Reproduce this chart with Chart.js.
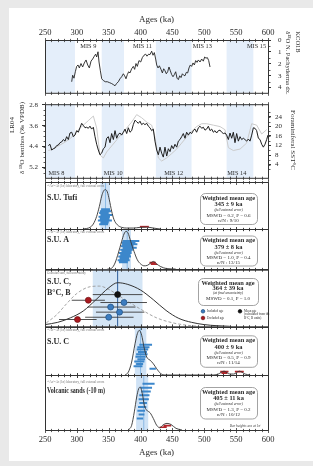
<!DOCTYPE html>
<html>
<head>
<meta charset="utf-8">
<title>Ages (ka)</title>
<script src="https://cdn.jsdelivr.net/npm/chart.js@4.4.1/dist/chart.umd.min.js"></script>
<style>
  html, body { margin: 0; padding: 0; width: 313px; height: 466px; overflow: hidden; background: #e9e9e9; }
  #sheet { position: absolute; left: 9px; top: 8px; width: 304px; height: 453px; background: #fff; }
  canvas { position: absolute; left: 0; }
</style>
</head>
<body>
<div id="sheet"></div>
<canvas id="p1" width="313" height="104" style="top:0px"></canvas>
<canvas id="p2" width="313" height="90" style="top:96px"></canvas>
<canvas id="p3" width="313" height="55" style="top:178px"></canvas>
<canvas id="p4" width="313" height="48" style="top:225px"></canvas>
<canvas id="p5" width="313" height="66" style="top:265px"></canvas>
<canvas id="p6" width="313" height="56" style="top:323px"></canvas>
<canvas id="p7" width="313" height="90" style="top:371px"></canvas>
<script>
// ---- data (ages in ka) ----
const ageTicks = [250, 300, 350, 400, 450, 500, 550, 600];
const kcoTicks = [0, 1, 2, 3, 4];
const lr04Ticks = [2.8, 3.6, 4.4, 5.2];
const sstTicks = [4, 8, 12, 16, 20, 24];

// glacial stages shaded in the two top panels
const misBands = [[250, 297], [339, 374], [424, 480], [535, 577]];
const misOdd = ['MIS 9', 'MIS 11', 'MIS 13', 'MIS 15'];
const misOddAge = [318, 403, 497, 582];
const misEven = ['MIS 8', 'MIS 10', 'MIS 12', 'MIS 14'];
const misEvenAge = [268, 357, 452, 551];

// KCO1B d18O N. pachyderma dx. [age, permil]
const kco = [[291.9,3.51],[293.4,2.96],[295.5,3.21],[297.6,2.67],[299.7,2.22],[301.8,2.10],[303.9,2.35],[306.5,1.98],[309.1,2.27],[311.7,1.93],[314.4,1.68],[317.0,2.10],[319.6,2.35],[322.2,1.78],[324.8,1.60],[327.4,1.36],[329.5,1.19],[331.1,1.43],[333.2,0.99],[334.8,1.85],[336.9,2.59],[339.0,3.26],[341.6,3.41],[344.7,3.51],[347.8,3.51],[351.0,3.58],[354.1,3.65],[357.3,3.75],[359.9,3.85],[362.5,3.65],[365.1,3.51],[367.7,3.26],[370.3,3.09],[373.0,2.84],[375.0,3.01],[377.1,3.26],[379.2,2.91],[381.3,2.67],[383.4,2.77],[386.0,2.42],[388.6,2.22],[390.7,2.47],[392.8,1.98],[394.9,2.22],[397.5,1.73],[400.2,1.85],[402.8,1.48],[405.4,1.28],[408.0,1.19],[410.1,1.36],[412.7,1.19],[414.8,1.23],[417.4,0.94],[419.5,1.28],[421.6,1.06],[423.7,1.60],[425.3,2.10],[427.4,2.35],[429.5,2.17],[432.1,2.47],[434.2,2.77],[436.3,2.42],[438.4,2.59],[440.4,2.84],[442.5,2.67],[444.6,2.27],[446.7,2.59],[448.8,2.91],[450.9,3.09],[453.0,2.91],[455.1,2.67],[457.2,3.21],[459.3,3.33],[461.4,3.01],[463.5,3.16],[465.6,2.84],[467.6,2.96],[469.7,3.01],[471.8,2.72],[473.9,2.77],[476.0,2.35],[478.1,2.10],[480.2,2.22],[482.3,1.93],[484.4,2.10],[486.5,1.73],[488.6,1.88],[490.7,1.68],[493.3,1.85],[495.9,1.60],[498.5,1.78],[500.6,1.43],[502.7,1.53],[504.8,1.48],[506.9,1.73],[509.0,2.27]];

// LR04 benthic stack [age, permil VPDB]
const lr04 = [[255.2,4.36],[257.8,4.31],[260.5,4.53],[263.1,4.48],[265.7,4.45],[268.3,4.36],[270.9,4.34],[273.5,4.25],[276.2,4.22],[278.8,4.13],[281.4,4.19],[284.0,4.02],[286.6,4.13],[289.2,3.88],[291.9,3.85],[294.5,4.02],[297.1,3.96],[299.7,3.79],[302.3,3.85],[304.9,3.68],[307.6,3.51],[310.2,3.59],[312.8,3.68],[315.4,3.66],[318.0,3.70],[320.6,3.62],[323.2,3.73],[325.9,3.66],[328.5,4.02],[331.1,4.31],[333.7,4.53],[336.3,4.71],[338.9,4.65],[341.6,4.48],[344.2,4.42],[346.8,4.08],[349.4,4.02],[352.0,4.25],[354.6,3.90],[357.3,4.13],[359.9,3.79],[362.5,4.08],[365.1,3.93],[367.7,3.88],[370.3,3.96],[373.0,3.85],[375.6,3.73],[378.2,3.90],[380.8,3.68],[383.4,3.85],[386.0,3.79],[388.6,3.56],[391.3,3.39],[393.9,3.45],[396.5,3.51],[399.1,3.43],[401.7,3.56],[404.3,3.51],[406.9,3.56],[409.6,3.51],[412.2,3.62],[414.8,3.68],[417.4,3.79],[420.0,3.73],[422.6,4.19],[425.3,4.53],[427.9,4.71],[430.5,4.42],[433.1,4.65],[435.7,4.80],[438.3,4.42],[441.0,4.76],[443.6,4.48],[446.2,4.59],[448.8,4.36],[451.4,4.48],[454.0,4.31],[456.7,4.42],[459.3,4.19],[461.9,4.13],[464.5,4.02],[467.1,3.90],[469.7,4.08],[472.3,3.85],[475.0,3.96],[477.6,3.85],[480.2,3.90],[482.8,3.79],[485.4,3.73],[488.0,3.85],[490.7,3.68],[493.3,3.62],[495.9,3.70],[498.5,3.66],[501.1,3.77],[503.7,3.73],[506.4,3.62],[509.0,3.79],[511.6,3.73],[514.2,3.85],[516.8,3.79],[519.4,3.88],[522.1,3.79],[524.7,3.77],[527.3,3.85],[529.9,3.90],[532.5,3.88],[535.1,3.96],[537.8,4.13],[540.4,3.88],[543.0,4.08],[545.6,3.85],[548.2,4.25],[550.8,3.90],[553.5,4.19],[556.1,4.02],[558.7,4.13],[561.3,4.08],[563.9,4.13],[566.5,4.19],[569.2,4.11],[571.8,4.19],[574.4,3.96],[577.0,3.68],[579.6,3.70],[582.2,3.79],[584.9,4.08],[587.5,4.13],[590.1,4.31],[592.7,4.42],[595.3,4.31],[597.9,4.13],[600.0,3.96]];

// foraminiferal SST [age, degC]
const sst = [[255.2,9.9],[263.1,10.5],[270.9,11.8],[278.8,13.0],[286.6,14.3],[294.5,16.1],[302.3,18.6],[310.2,20.5],[318.0,22.4],[325.9,24.3],[331.1,19.3],[336.3,8.0],[341.6,6.8],[346.8,9.3],[354.6,11.8],[362.5,14.3],[370.3,16.8],[378.2,19.3],[386.0,21.8],[393.9,24.9],[401.7,23.6],[409.6,21.8],[417.4,20.5],[422.6,15.5],[427.9,6.8],[433.1,5.5],[441.0,6.8],[448.8,8.6],[456.7,10.5],[464.5,13.0],[472.3,15.5],[480.2,18.0],[488.0,19.9],[495.9,21.1],[503.7,21.1],[514.2,20.5],[524.7,19.9],[532.5,18.6],[537.8,11.1],[545.6,9.9],[556.1,10.5],[566.5,13.0],[574.4,21.1],[582.2,20.5],[590.1,16.8],[597.9,18.6]];

// age probability curves [age, relative height] and single-crystal ages [lo, hi, row]
const tufiCurve = [[310,0],[320.6,0.035],[325.8,0.106],[331.1,0.27],[335.3,0.48],[339,0.70],[341.6,0.80],[344.7,0.84],[347.8,0.79],[351,0.62],[354.6,0.38],[358.3,0.20],[363.5,0.09],[370.3,0.035],[378.2,0.02],[388.6,0.02],[399.1,0.035],[409.6,0.04],[420,0.02],[430.5,0]];
const tufiIncl = [[338,352,0.42],[336,354,0.38],[335,350,0.34],[337,356,0.30],[334,352,0.26],[336,351,0.22],[333,355,0.18],[337,350,0.14],[335,349,0.10]];
const tufiExcl = [[399,413,0.05]];
const tufiBand = [337, 352];
const tufiMean = 345;
const tufiBox = ['Weighted mean age', '345 ± 9 ka', '(full external error)', 'MSWD = 0.2, P = 0.6', 'n/N : 9/10'];

const suACurve = [[348,0],[354.6,0.02],[359.9,0.15],[365.1,0.40],[370.3,0.69],[374,0.875],[377.1,0.94],[380.3,0.90],[384.5,0.69],[389.7,0.44],[394.9,0.23],[400.2,0.125],[405.4,0.08],[410.6,0.09],[415.9,0.15],[420,0.19],[425.3,0.125],[431.6,0.06],[441,0.01],[455,0]];
const suAIncl = [[372,398,0.70],[370,392,0.66],[371,395,0.62],[369,389,0.57],[372,394,0.53],[368,388,0.48],[370,386,0.44],[366,386,0.40],[368,384,0.35],[365,385,0.31],[367,382,0.26],[364,383,0.22],[366,380,0.17]];
const suAExcl = [[414,424,0.16],[416,426,0.12]];
const suABand = [371, 385];
const suAMean = 379;
const suABox = ['Weighted mean age', '379 ± 8 ka', '(full external error)', 'MSWD = 1.0, P = 0.4', 'n/N : 13/15'];

// S.U. C, B°C, B : [age, row, lo, hi]
const bcCurve = [[250,0.03],[270,0.07],[290,0.15],[310,0.27],[330,0.47],[350,0.68],[364,0.77],[380,0.74],[400,0.64],[420,0.47],[440,0.28],[460,0.14],[480,0.07],[500,0.03],[520,0.01],[540,0]];
const bcDashed = [[252,0.06],[268,0.2],[284,0.4],[300,0.58],[321,0.70],[336,0.71],[347,0.67],[373,0.49],[399,0.31],[425,0.15],[451,0.06],[472,0.02],[490,0]];
const bcMeanAge = [[364, 0.56, 325, 403]];
const bcIncl = [[374, 0.42, 337, 410], [353, 0.34, 317, 392], [367, 0.25, 330, 406], [350, 0.16, 313, 389]];
const bcExcl = [[318, 0.46, 292, 344], [301, 0.12, 272, 331]];
const bcBand = [325, 403];
const bcMean = 364;
const bcBox = ['Weighted mean age', '364 ± 39 ka', '(at final uncertainty)', 'MSWD = 0.1, P = 1.0'];

const suCCurve = [[375.6,0],[380.8,0.06],[386,0.27],[391.3,0.65],[394.9,0.86],[398,0.93],[401.7,0.83],[405.4,0.58],[409.6,0.375],[414.8,0.31],[420,0.235],[425.3,0.13],[431.6,0.03],[438.3,0],[515,0],[522,0.02],[531,0.08],[540,0.02],[546,0.02],[555,0.08],[564,0.02],[572,0]];
const suCIncl = [[398,418,0.63],[395,414,0.58],[394,412,0.53],[396,410,0.48],[393,411,0.43],[392,408,0.38],[395,407,0.33],[390,406,0.28],[393,404,0.23],[389,403,0.18],[414,424,0.13]];
const suCExcl = [[525,538,0.07],[548,562,0.07],[527,536,0.04]];
const suCBand = [391, 409];
const suCMean = 400;
const suCBox = ['Weighted mean age', '400 ± 9 ka', '(full external error)', 'MSWD = 0.5, P = 0.9', 'n/N : 11/14'];

const volcCurve = [[380.8,0],[386,0.085],[390.2,0.33],[393.9,0.60],[397,0.75],[399.6,0.78],[402.7,0.66],[405.9,0.45],[409.6,0.36],[414.8,0.315],[420,0.21],[425.3,0.085],[430.5,0.04],[435,0.09],[441.5,0.12],[447.8,0.10],[455.6,0.03],[465,0]];
const volcIncl = [[403,422,0.84],[400,418,0.77],[401,416,0.70],[398,414,0.63],[397,413,0.56],[398,410,0.49],[396,409,0.42],[395,407,0.35],[397,406,0.28],[394,404,0.21]];
const volcExcl = [[436,448,0.08],[430,441,0.05]];
const volcBand = [393, 412];
const volcMean = 405;
const volcBox = ['Weighted mean age', '405 ± 11 ka', '(full external error)', 'MSWD = 1.3, P = 0.2', 'n/N : 10/12'];

// ---- styling helpers ----
const SERIF = "'Liberation Serif', 'DejaVu Serif', serif";
const f = (size, style) => (style ? style + ' ' : '') + size + 'px ' + SERIF;
const INK = '#2b2b2b';
const LAB_NOTE = '⁴⁰Ar/³⁹Ar (1σ) laboratory, full external errors';

const pts = arr => arr.map(([x, y]) => ({ x, y }));
const segs = arr => arr.flatMap(([lo, hi, h]) => [{ x: lo, y: h }, { x: hi, y: h }, { x: hi, y: null }]);
const errs = arr => arr.flatMap(([a, h, lo, hi]) => [{ x: lo, y: h }, { x: hi, y: h }, { x: hi, y: null }]);
const dots = arr => arr.map(([a, h]) => ({ x: a, y: h }));

function roundBox(ctx, x, y, w, h, r) {
  ctx.beginPath();
  ctx.moveTo(x + r, y);
  ctx.arcTo(x + w, y, x + w, y + h, r);
  ctx.arcTo(x + w, y + h, x, y + h, r);
  ctx.arcTo(x, y + h, x, y, r);
  ctx.arcTo(x, y, x + w, y, r);
  ctx.closePath();
}

// draws bands, frame, border ticks, labels and boxes for one panel
function deco(cfg) {
  return {
    id: 'deco',
    beforeDatasetsDraw(chart) {
      const { ctx, chartArea: a, scales: { x } } = chart;
      ctx.save();
      ctx.fillStyle = cfg.bandColor || '#e4eefa';
      (cfg.bands || []).forEach(([lo, hi]) => {
        const x0 = x.getPixelForValue(lo), x1 = x.getPixelForValue(hi);
        ctx.fillRect(x0, a.top, x1 - x0, a.bottom - a.top);
      });
      if (cfg.mean) {
        const px = x.getPixelForValue(cfg.mean);
        ctx.strokeStyle = cfg.meanColor || '#79aee0';
        ctx.lineWidth = cfg.meanWidth || 0.8;
        ctx.beginPath(); ctx.moveTo(px, a.top); ctx.lineTo(px, a.bottom); ctx.stroke();
      }
      ctx.restore();
    },
    afterDatasetsDraw(chart) {
      const { ctx, chartArea: a, scales } = chart;
      const x = scales.x;
      const off = cfg.canvasTop;
      ctx.save();
      ctx.strokeStyle = '#333';
      ctx.lineWidth = 1;
      ctx.beginPath();
      ctx.moveTo(a.left + 0.5, a.top + 0.5); ctx.lineTo(a.right + 0.5, a.top + 0.5);
      ctx.lineTo(a.right + 0.5, a.bottom + 0.5); ctx.lineTo(a.left + 0.5, a.bottom + 0.5);
      ctx.closePath();
      ctx.stroke();

      ctx.lineWidth = 0.8;
      ctx.beginPath();
      for (let v = 250; v <= 600; v += 10) {
        const px = Math.round(x.getPixelForValue(v)) + 0.5;
        const len = v % 50 === 0 ? 2.5 : 1.6;
        [a.top + 0.5, a.bottom + 0.5].forEach(yy => { ctx.moveTo(px, yy - len); ctx.lineTo(px, yy + len); });
      }
      (cfg.minorY || []).forEach(m => {
        const s = scales[m.id];
        const left = s.position === 'left';
        const edge = left ? a.left + 0.5 : a.right + 0.5;
        m.vals.forEach(v => {
          const py = Math.round(s.getPixelForValue(v)) + 0.5;
          ctx.moveTo(edge, py); ctx.lineTo(edge + (left ? -2 : 2), py);
        });
      });
      ctx.stroke();

      (cfg.texts || []).forEach(t => {
        ctx.font = t.font;
        ctx.fillStyle = t.color || INK;
        ctx.textAlign = t.align || 'left';
        ctx.textBaseline = 'middle';
        const px = t.age != null ? x.getPixelForValue(t.age) : t.x;
        if (t.rot) {
          ctx.save(); ctx.translate(px, t.y - off); ctx.rotate(t.rot); ctx.fillText(t.t, 0, 0); ctx.restore();
        } else if (t.maxW) {
          ctx.fillText(t.t, px, t.y - off, t.maxW);
        } else {
          ctx.fillText(t.t, px, t.y - off);
        }
      });

      (cfg.marks || []).forEach(d => {
        ctx.beginPath(); ctx.arc(d.x, d.y - off, d.r, 0, Math.PI * 2);
        ctx.fillStyle = d.fill; ctx.fill();
        ctx.strokeStyle = d.stroke; ctx.lineWidth = 0.7; ctx.stroke();
      });

      if (cfg.box) {
        const b = cfg.box;
        roundBox(ctx, b.x + 0.5, b.y - off + 0.5, b.w, b.h, 5);
        ctx.fillStyle = '#fff'; ctx.fill();
        ctx.strokeStyle = '#8c8c8c'; ctx.lineWidth = 0.8; ctx.stroke();
        ctx.fillStyle = INK; ctx.textAlign = 'center'; ctx.textBaseline = 'middle';
        b.lines.forEach((s, i) => {
          ctx.font = b.fonts[i];
          ctx.fillText(s, b.x + b.w / 2, b.y - off + b.dy[i], b.w - 4);
        });
      }
      ctx.restore();
    }
  };
}

const base = pad => ({
  responsive: false,
  animation: false,
  events: [],
  layout: { padding: pad },
  plugins: { legend: { display: false }, tooltip: { enabled: false } },
});

const setTicks = list => s => { s.ticks = list.map(v => ({ value: v })); };
const yAxisStyle = (pos, pad) => ({
  position: pos,
  grid: { drawOnChartArea: false, tickLength: 3, color: '#333' },
  border: { display: false },
  ticks: { font: { family: SERIF, size: 7 }, color: INK, padding: pad, autoSkip: false },
  afterFit: s => { s.width = 45; },
});
const hiddenX = { type: 'linear', min: 250, max: 600, display: false };
const boxFonts = [f(6.4, 'bold'), f(6.4, 'bold'), f(3.6, 'italic'), f(5), f(5)];
const boxDy = [5, 11.8, 17.4, 22.6, 27.6];
const lineOf = (data, color, width, extra) => Object.assign({ data, borderColor: color, borderWidth: width, pointRadius: 0, tension: 0, fill: false }, extra || {});

// ---- panel 1 : KCO1B ----
const minor = (from, to, step) => { const out = []; for (let v = from; v <= to + 1e-9; v += step) out.push(+v.toFixed(2)); return out; };

new Chart(document.getElementById('p1'), {
  type: 'line',
  data: { datasets: [lineOf(pts(kco), '#222', 0.9)] },
  options: {
    ...base({ left: 45, right: 0, top: 0, bottom: 4 }),
    scales: {
      x: {
        type: 'linear', position: 'top', min: 250, max: 600,
        afterBuildTicks: setTicks(ageTicks),
        afterFit: s => { s.height = 40; },
        grid: { display: false, drawTicks: false }, border: { display: false },
        ticks: { font: { family: SERIF, size: 8.5 }, color: INK, padding: 2, maxRotation: 0, autoSkip: false },
        title: { display: true, text: 'Ages (ka)', font: { family: SERIF, size: 9 }, color: INK, padding: { top: 14.6, bottom: 0 } },
      },
      y: { ...yAxisStyle('right', 7), reverse: true, min: 0, max: 4.44, afterBuildTicks: setTicks(kcoTicks) },
    },
  },
  plugins: [deco({
    canvasTop: 0,
    bands: misBands,
    minorY: [{ id: 'y', vals: minor(0.5, 4, 1) }],
    texts: [
      ...misOdd.map((t, i) => ({ t, age: misOddAge[i], y: 46.7, font: f(6.3), align: 'center' })),
      { t: 'KCO1B', x: 298, y: 42, rot: Math.PI / 2, align: 'center', font: f(6.5) },
      { t: 'δ¹⁸O N. Pachyderma dx.', x: 287.5, y: 63, rot: Math.PI / 2, align: 'center', font: f(6.5) },
    ],
  })],
});

// ---- panel 2 : LR04 and SST ----
new Chart(document.getElementById('p2'), {
  type: 'line',
  data: {
    datasets: [
      lineOf(pts(lr04), '#1e1e1e', 1, { yAxisID: 'y' }),
      lineOf(pts(sst), '#cbcbcb', 1, { yAxisID: 'y2' }),
    ],
  },
  options: {
    ...base({ left: 0, right: 0, top: 4, bottom: 4 }),
    scales: {
      x: hiddenX,
      y: { ...yAxisStyle('left', 4), reverse: true, min: 2.78, max: 5.59, afterBuildTicks: setTicks(lr04Ticks) },
      y2: { ...yAxisStyle('right', 4), min: -1.5, max: 29.25, afterBuildTicks: setTicks(sstTicks) },
    },
  },
  plugins: [deco({
    canvasTop: 96,
    bands: misBands,
    minorY: [{ id: 'y', vals: minor(3.0, 5.4, 0.2) }, { id: 'y2', vals: minor(2, 26, 2) }],
    texts: [
      ...misEven.map((t, i) => ({ t, age: misEvenAge[i], y: 173.3, font: f(6.3), align: 'center' })),
      { t: 'LR04', x: 12, y: 125, rot: -Math.PI / 2, align: 'center', font: f(7) },
      { t: 'δ ¹⁸O benthos (‰ VPDB)', x: 22, y: 138, rot: -Math.PI / 2, align: 'center', font: f(7) },
      { t: 'Foraminiferal SST°C', x: 293, y: 140, rot: Math.PI / 2, align: 'center', font: f(7) },
    ],
  })],
});

// ---- age-probability panels ----
function agePanel(id, canvasTop, curve, incl, excl, extra) {
  const bottomPad = extra.xAxis ? 0 : 4;
  return new Chart(document.getElementById(id), {
    type: 'line',
    data: {
      datasets: [
        lineOf(pts(curve), '#333', 0.9, { cubicInterpolationMode: 'monotone' }),
        lineOf(segs(excl), '#b3262b', 1.6, { borderCapStyle: 'butt' }),
        lineOf(segs(incl), '#3c87cb', 2, { borderCapStyle: 'butt' }),
      ],
    },
    options: {
      ...base({ left: 45, right: 45, top: 4, bottom: bottomPad }),
      scales: { x: extra.xAxis || hiddenX, y: { min: 0, max: 1, display: false } },
    },
    plugins: [deco(Object.assign({ canvasTop, bandColor: '#cfe2f5' }, extra.deco))],
  });
}

const boxOf = (lines, x, y, w, h) => ({ lines, x, y, w, h, fonts: boxFonts, dy: boxDy });
const note = (y) => ({ t: LAB_NOTE, x: 47, y, font: f(3.2), color: '#777' });

agePanel('p3', 178, tufiCurve, tufiIncl, tufiExcl, {
  deco: {
    bands: [tufiBand], mean: tufiMean,
    texts: [note(186), { t: 'S.U. Tufi', x: 47, y: 198, font: f(8, 'bold') }],
    box: boxOf(tufiBox, 200, 193, 57, 31),
  },
});

agePanel('p4', 225, suACurve, suAIncl, suAExcl, {
  deco: {
    bands: [suABand], mean: suAMean,
    texts: [note(232.5), { t: 'S.U. A', x: 47, y: 240, font: f(8, 'bold') }],
    box: boxOf(suABox, 200, 235.5, 57, 30),
  },
});

// ---- panel 5 : S.U. C, B°C, B ----
new Chart(document.getElementById('p5'), {
  type: 'line',
  data: {
    datasets: [
      lineOf(dots(bcMeanAge), '#111', 0.7, { showLine: false, pointRadius: 3, pointBackgroundColor: '#111' }),
      lineOf(dots(bcIncl), '#1f4f80', 0.7, { showLine: false, pointRadius: 3, pointBackgroundColor: '#3b7cc0' }),
      lineOf(dots(bcExcl), '#6e1215', 0.7, { showLine: false, pointRadius: 3, pointBackgroundColor: '#a8191f' }),
      lineOf(errs(bcMeanAge.concat(bcIncl, bcExcl)), '#3a3a3a', 0.9, { borderCapStyle: 'butt' }),
      lineOf(pts(bcCurve), '#333', 1, { cubicInterpolationMode: 'monotone' }),
      lineOf(pts(bcDashed), '#9a9a9a', 0.9, { cubicInterpolationMode: 'monotone', borderDash: [3, 2] }),
    ],
  },
  options: {
    ...base({ left: 45, right: 45, top: 4, bottom: 4 }),
    scales: { x: hiddenX, y: { min: 0, max: 1, display: false } },
  },
  plugins: [deco({
    canvasTop: 265,
    bands: [bcBand], bandColor: '#d4e5f5',
    mean: bcMean, meanColor: '#2d5d9a', meanWidth: 1,
    texts: [
      { t: 'Gaussian sum, full uncertainty', x: 47, y: 273, font: f(3.2), color: '#777' },
      { t: 'S.U. C,', x: 47, y: 282, font: f(8, 'bold') },
      { t: 'B°C, B', x: 47, y: 293, font: f(8, 'bold') },
      { t: 'Included age', x: 207, y: 311.3, font: f(3.2) },
      { t: 'Excluded age', x: 207, y: 318, font: f(3.2) },
      { t: 'Mean age', x: 244, y: 311.3, font: f(3.2) },
      { t: '(calculated from the', x: 244, y: 314.6, font: f(3.2) },
      { t: 'B°C, B units)', x: 244, y: 317.9, font: f(3.2) },
    ],
    marks: [
      { x: 203, y: 311.3, r: 1.8, fill: '#3b7cc0', stroke: '#1f4f80' },
      { x: 203, y: 318, r: 1.8, fill: '#a8191f', stroke: '#6e1215' },
      { x: 240, y: 311.3, r: 1.8, fill: '#111', stroke: '#111' },
    ],
    box: { lines: bcBox, x: 198, y: 278, w: 60, h: 27, fonts: boxFonts, dy: [5, 10.5, 14.6, 21] },
  })],
});

agePanel('p6', 323, suCCurve, suCIncl, suCExcl, {
  deco: {
    bands: [suCBand], mean: suCMean,
    texts: [note(330.5), { t: 'S.U. C', x: 47, y: 342, font: f(8, 'bold') }],
    box: boxOf(suCBox, 200, 335.3, 57, 31.5),
  },
});

agePanel('p7', 371, volcCurve, volcIncl, volcExcl, {
  xAxis: {
    type: 'linear', position: 'bottom', min: 250, max: 600,
    afterBuildTicks: setTicks(ageTicks),
    afterFit: s => { s.height = 31; },
    grid: { display: false, drawTicks: false }, border: { display: false },
    ticks: { font: { family: SERIF, size: 8.5 }, color: INK, padding: 5, maxRotation: 0, autoSkip: false },
    title: { display: true, text: 'Ages (ka)', font: { family: SERIF, size: 9 }, color: INK, padding: { top: 0, bottom: 2.6 } },
  },
  deco: {
    bands: [volcBand], mean: volcMean,
    texts: [
      note(382),
      { t: 'Volcanic sands (-10 m)', x: 47, y: 391.3, font: f(8, 'bold'), maxW: 58 },
      { t: 'Bar heights are at 1σ', x: 245, y: 426, font: f(3.6, 'italic'), align: 'center', color: '#444' },
    ],
    box: boxOf(volcBox, 200, 387, 57, 31.5),
  },
});
</script>
</body>
</html>
